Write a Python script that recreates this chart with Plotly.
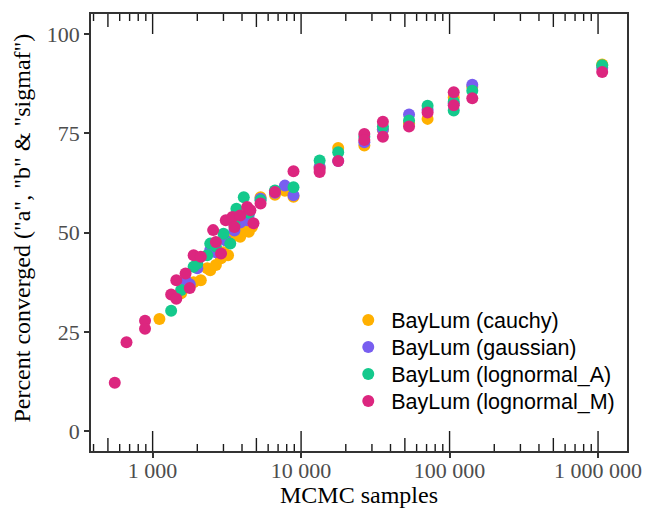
import plotly.graph_objects as go

# MCMC samples vs percent of runs converged, one series per BayLum prior
cauchy_x = [1111, 1556, 1889, 2111, 2333, 2444, 2667, 2889, 3000, 3222, 3444, 3667,
            3889, 4111, 4444, 4667, 5333, 6667, 7778, 8889, 13333, 17778, 26667,
            35556, 53333, 71111, 106667, 142222, 1066667]
cauchy_y = [28.2, 34.7, 37.5, 38.0, 41.0, 40.5, 41.8, 43.5, 45.0, 44.3, 48.9, 51.0,
            48.9, 50.5, 50.2, 51.4, 58.9, 59.5, 60.5, 59.0, 66.5, 71.3, 71.9,
            75.8, 77.5, 78.6, 84.0, 86.6, 92.3]

gaussian_x = [1667, 1778, 2000, 2444, 2667, 3111, 3556, 3889, 4333, 4444, 5333, 6667,
              7778, 8889, 13333, 17778, 26667, 35556, 53333, 71111, 106667, 142222,
              1066667]
gaussian_y = [38.0, 37.0, 41.0, 45.6, 45.0, 48.0, 50.5, 52.5, 53.1, 54.5, 58.5, 60.0,
              61.8, 59.4, 66.5, 68.0, 72.7, 76.0, 79.7, 80.9, 82.5, 87.2, 91.5]

lognormal_a_x = [1333, 1556, 1889, 2000, 2333, 2444, 2667, 3000, 3333, 3556, 3667, 4111,
                 4444, 5333, 6667, 8889, 13333, 17778, 26667, 35556, 53333, 71111,
                 106667, 106667, 142222, 1066667]
lognormal_a_y = [30.3, 35.5, 41.4, 42.2, 44.3, 47.2, 46.5, 49.7, 47.2, 52.0, 56.0, 58.9,
                 55.0, 58.1, 60.6, 61.4, 68.1, 70.2, 74.1, 76.7, 78.2, 81.9,
                 82.9, 80.7, 85.7, 92.1]

lognormal_m_x = [556, 667, 889, 889, 1333, 1444, 1444, 1667, 1778, 1889, 2111, 2556,
                 2667, 2889, 3111, 3444, 3556, 3889, 4333, 4556, 4778, 5333, 6667,
                 8889, 13333, 13333, 17778, 26667, 26667, 35556, 35556, 53333, 71111,
                 106667, 106667, 142222, 1066667]
lognormal_m_y = [12.2, 22.4, 27.8, 25.8, 34.4, 33.3, 38.0, 39.7, 36.0, 44.3, 43.9, 50.6,
                 47.6, 44.7, 53.1, 53.9, 51.4, 54.3, 56.4, 55.6, 52.3, 57.3, 60.2,
                 65.4, 66.0, 65.2, 68.0, 74.8, 73.3, 77.9, 74.1, 76.7, 80.2,
                 85.3, 82.0, 83.8, 90.4]

series_names = ["BayLum (cauchy)", "BayLum (gaussian)",
                "BayLum (lognormal_A)", "BayLum (lognormal_M)"]
series_colors = ["#FFB000", "#785EF0", "#14C98C", "#DC267F"]

x_ticks = [1000, 10000, 100000, 1000000]
x_tick_text = ["1 000", "10 000", "100 000", "1 000 000"]
y_ticks = [0, 25, 50, 75, 100]

# one legend box per series so the row spacing can be set exactly
legend_ids = ["legend", "legend2", "legend3", "legend4"]
legend_rows_y = [0.2998, 0.2380, 0.1762, 0.1144]

fig = go.Figure()
for name, color, lid, xs, ys in zip(series_names, series_colors, legend_ids,
                                    [cauchy_x, gaussian_x, lognormal_a_x, lognormal_m_x],
                                    [cauchy_y, gaussian_y, lognormal_a_y, lognormal_m_y]):
    fig.add_trace(go.Scatter(x=xs, y=ys, mode="markers", name=name, legend=lid,
                             marker=dict(color=color, size=12, line=dict(width=0))))

# log tick annotations along the top and bottom of the panel
panel_h = 437.0
short_len, mid_len, long_len = 7 / panel_h, 13 / panel_h, 20 / panel_h
shapes = []
for k in range(2, 7):
    for m in range(1, 10):
        v = m * 10 ** k
        if v < 385 or v > 1.55e6:
            continue
        ln = long_len if m == 1 else (mid_len if m == 5 else short_len)
        for y0, y1 in [(0, ln), (1, 1 - ln)]:
            shapes.append(dict(type="line", xref="x", yref="paper", x0=v, x1=v,
                               y0=y0, y1=y1, line=dict(color="#1a1a1a", width=1.4)))

axis_common = dict(showgrid=False, zeroline=False, showline=True, linecolor="#333333",
                   linewidth=1.5, mirror=True, ticks="outside", tickcolor="#333333",
                   tickwidth=1.5, ticklen=5, automargin=False,
                   tickfont=dict(family="Liberation Serif", size=22, color="#4D4D4D"))

title_font = dict(family="Liberation Serif", size=24, color="black")

legend_style = dict(x=0.4744, xanchor="left", yanchor="middle", itemwidth=36,
                    bgcolor="rgba(0,0,0,0)", itemsizing="constant",
                    font=dict(family="Liberation Sans", size=21.5, color="black"))

fig.update_layout(
    width=646, height=509,
    margin=dict(l=91, r=19, t=14, b=58),
    paper_bgcolor="white", plot_bgcolor="white",
    shapes=shapes,
    xaxis=dict(type="log", range=[2.585, 6.195], tickvals=x_ticks, ticktext=x_tick_text,
               ticklabelstandoff=-6, **axis_common),
    yaxis=dict(range=[-5, 105], tickvals=y_ticks, **axis_common),
    annotations=[
        dict(text="MCMC samples", xref="paper", yref="paper", x=0.5, y=-0.1,
             xanchor="center", yanchor="middle", showarrow=False, font=title_font),
        dict(text='Percent converged ("a", "b" & "sigmaf")', xref="paper", yref="paper",
             x=-0.129, y=0.511, xanchor="center", yanchor="middle", textangle=-90,
             showarrow=False, font=title_font),
    ],
    showlegend=True,
)
for lid, ly in zip(legend_ids, legend_rows_y):
    fig.update_layout({lid: dict(y=ly, **legend_style)})

fig.write_html("out.html")
